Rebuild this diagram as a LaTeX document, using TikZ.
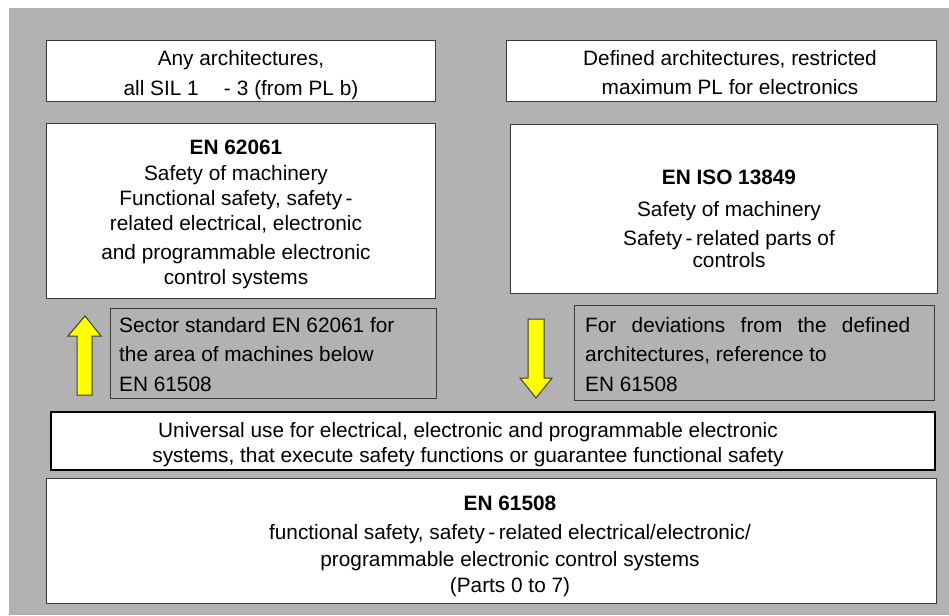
\documentclass[tikz,border=0pt]{standalone}
\usepackage{fontspec}
\setmainfont{Liberation Sans}
\definecolor{bggray}{HTML}{B2B2B2}
\definecolor{edge}{HTML}{3A3A3A}
\definecolor{arrowyellow}{HTML}{FFFF00}
\begin{document}
\begin{tikzpicture}[x=1pt,y=-1pt,
  box/.style={draw=edge, line width=1.1pt, fill=white, rectangle, anchor=north west, inner sep=0pt},
  graybox/.style={box, fill=bggray},
  heavybox/.style={box, draw=black, line width=2.4pt},
  txt/.style={inner sep=0pt, align=center, font=\fontsize{20.8}{25}\selectfont},
  ltxt/.style={inner sep=0pt, align=left, anchor=west, font=\fontsize{20.8}{29.5}\selectfont},
  bigarrow/.style={draw=edge, line width=1pt, fill=arrowyellow, line join=miter}]
\useasboundingbox (0,0) rectangle (949,615);
\fill[white] (0,0) rectangle (949,615);
\fill[bggray] (9,8) rectangle (949,615);

% boxes
\node[box, minimum width=389pt, minimum height=61pt] (anyarch) at (46,40) {};
\node[box, minimum width=389pt, minimum height=175pt] (en62061) at (46,123) {};
\node[box, minimum width=430pt, minimum height=61pt] (defarch) at (506,40) {};
\node[box, minimum width=427pt, minimum height=169pt] (iso13849) at (510,124) {};
\node[graybox, minimum width=326pt, minimum height=90pt] (sector) at (110,308) {};
\node[graybox, minimum width=360pt, minimum height=95pt] (deviation) at (574,305) {};
\node[heavybox, minimum width=884pt, minimum height=58pt] (universal) at (50,411) {};
\node[box, minimum width=890pt, minimum height=125pt] (en61508) at (46,478) {};

% texts
\node[txt, font=\fontsize{20.8}{30}\selectfont] (anyarch-t) at (241,75) {Any architectures,\\all SIL 1\hspace{1.2em}-\hspace{0.3em}3 (from PL b)};
\node[txt] (en62061-t) at (236,214) {\textbf{EN 62061}\\[1pt]Safety of machinery\\Functional safety, safety\,-\\related electrical, electronic\\[4pt]and programmable electronic\\control systems};
\node[txt, font=\fontsize{20.8}{29}\selectfont] (defarch-t) at (730,72.5) {Defined architectures, restricted\\maximum PL for electronics};
\node[txt, font=\fontsize{20.8}{22}\selectfont] (iso13849-t) at (729,218.5) {\textbf{EN ISO 13849}\\[10pt]Safety of machinery\\[7pt]Safety\,-\,related parts of\\controls};
\node[ltxt] (sector-t) at (119,354.5) {Sector standard EN 62061 for\\the area of machines below\\EN 61508};
\node[ltxt] (deviation-t) at (585,354.5) {\makebox[325pt][s]{For deviations from the defined}\\architectures, reference to\\EN 61508};
\node[txt] (universal-t) at (468,444.5) {Universal use for electrical, electronic and programmable electronic\\systems, that execute safety functions or guarantee functional safety};
\node[txt, font=\fontsize{20.8}{26}\selectfont] (en61508-t) at (510,546) {\textbf{EN 61508}\\[3pt]functional safety, safety\,-\,related electrical/electronic/\\[1pt]programmable electronic control systems\\(Parts 0 to 7)};

% yellow arrows
\draw[bigarrow] (77,395) -- (77,336) -- (68,336) -- (85,316) -- (101,336) -- (92,336) -- (92,395) -- cycle;
\draw[bigarrow] (528,319) -- (544,319) -- (544,378) -- (552,378) -- (536,398) -- (520,378) -- (528,378) -- cycle;
\end{tikzpicture}
\end{document}
